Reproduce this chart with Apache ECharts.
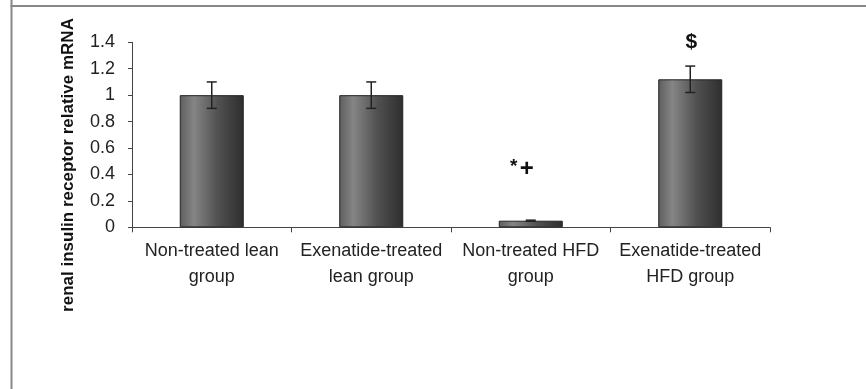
<!DOCTYPE html>
<html>
<head>
<meta charset="utf-8">
<script src="https://cdn.jsdelivr.net/npm/echarts@6/dist/echarts.min.js"></script>
<style>html,body{margin:0;padding:0;background:#fff}#c{width:866px;height:389px}</style>
</head>
<body>
<div id="c"></div>
<script>
const categories = ["Non-treated lean\ngroup", "Exenatide-treated\nlean group", "Non-treated HFD\ngroup", "Exenatide-treated\nHFD group"];
const values = [1.0, 1.0, 0.05, 1.12];
const errors = [0.1, 0.1, 0.004, 0.1];
const annotations = ["", "", "*+", "$"];
const annotationY = [null, null, 0.47, 1.40];
const yTicks = [0, 0.2, 0.4, 0.6, 0.8, 1, 1.2, 1.4];
const yName = "renal insulin receptor relative mRNA";

const chart = echarts.init(document.getElementById('c'));
const barGrad = new echarts.graphic.LinearGradient(0, 0, 1, 0, [
  {offset: 0, color: '#5e5e5e'},
  {offset: 0.22, color: '#858585'},
  {offset: 0.6, color: '#505050'},
  {offset: 1, color: '#2e2e2e'}
]);
const annItems = annotations.map((a, i) => [i, annotationY[i], a]).filter(d => d[2] !== '');
chart.setOption({
  animation: false,
  backgroundColor: '#fff',
  grid: {left: 132, right: 96, top: 42.3, bottom: 161.7, containLabel: false},
  xAxis: {
    type: 'category',
    data: categories,
    boundaryGap: true,
    axisLine: {lineStyle: {color: '#444', width: 1}},
    axisTick: {show: true, length: 5, lineStyle: {color: '#444'}, alignWithLabel: false},
    axisLabel: {color: '#222', fontFamily: 'Liberation Sans, Arial', fontSize: 18, lineHeight: 26, margin: 11, interval: 0}
  },
  yAxis: {
    type: 'value',
    min: 0, max: 1.4, interval: 0.2,
    splitLine: {show: false},
    axisLine: {show: true, lineStyle: {color: '#444', width: 1}},
    axisTick: {show: true, length: 4, lineStyle: {color: '#444'}},
    axisLabel: {color: '#222', fontFamily: 'Liberation Sans, Arial', fontSize: 18, margin: 17,
      formatter: v => { const t = yTicks.find(x => Math.abs(x - v) < 1e-9); return t === undefined ? '' : String(t); }}
  },
  graphic: [
    {type: 'line', shape: {x1: 11.5, y1: 0, x2: 11.5, y2: 389}, style: {stroke: '#888', lineWidth: 2}, z: 10},
    {type: 'line', shape: {x1: 10.5, y1: 6, x2: 866, y2: 6}, style: {stroke: '#888', lineWidth: 2}, z: 10},
    {type: 'text', x: 68, y: 165, rotation: Math.PI / 2,
      style: {text: yName, font: 'bold 17px "Liberation Sans", Arial', fill: '#111', align: 'center', verticalAlign: 'middle'}}
  ],
  series: [
    {
      type: 'bar',
      data: values,
      barWidth: 64,
      itemStyle: {color: barGrad, borderColor: '#222', borderWidth: 1}
    },
    {
      type: 'custom',
      data: values.map((v, i) => [i, v, errors[i]]),
      renderItem: function (params, api) {
        const i = api.value(0), v = api.value(1), e = api.value(2);
        const top = api.coord([i, v + e]);
        const bot = api.coord([i, v - e]);
        const hw = 5;
        const st = {stroke: '#222', lineWidth: 1.5};
        return {type: 'group', children: [
          {type: 'line', shape: {x1: top[0], y1: top[1], x2: bot[0], y2: bot[1]}, style: st},
          {type: 'line', shape: {x1: top[0] - hw, y1: top[1], x2: top[0] + hw, y2: top[1]}, style: st},
          {type: 'line', shape: {x1: bot[0] - hw, y1: bot[1], x2: bot[0] + hw, y2: bot[1]}, style: st}
        ]};
      },
      z: 5
    },
    {
      type: 'custom',
      data: annItems.map(d => [d[0], d[1]]),
      renderItem: function (params, api) {
        const item = annItems[params.dataIndexInside];
        const p = api.coord([item[0], item[1]]);
        if (item[2] === '*+') {
          return {type: 'group', children: [
            {type: 'text', x: p[0] - 17, y: p[1] + 2, style: {text: '*', font: 'bold 19px "Liberation Sans", Arial', fill: '#111', align: 'center', verticalAlign: 'middle'}},
            {type: 'text', x: p[0] - 4, y: p[1] + 4, style: {text: '+', font: 'bold 24px "Liberation Sans", Arial', fill: '#111', align: 'center', verticalAlign: 'middle'}}
          ]};
        }
        return {type: 'text', x: p[0] + 1, y: p[1], style: {text: item[2], font: 'bold 21px "Liberation Sans", Arial', fill: '#111', align: 'center', verticalAlign: 'middle'}};
      },
      z: 6
    }
  ]
});
</script>
</body>
</html>
